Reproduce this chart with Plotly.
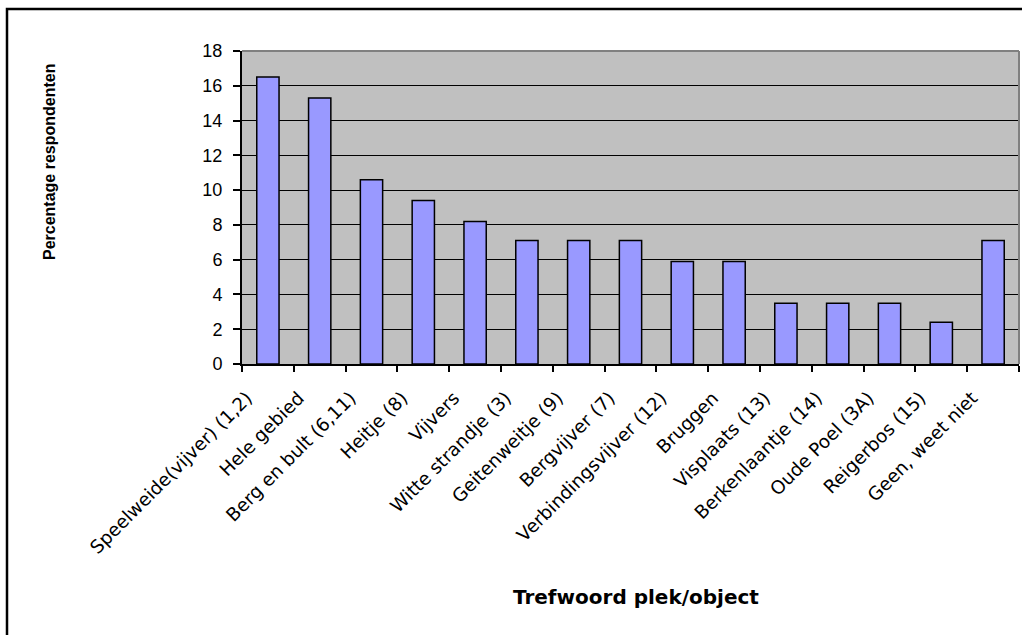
import plotly.graph_objects as go

# Survey result: share of respondents naming each place/object
categories = [
    "Speelweide(vijver) (1,2)", "Hele gebied", "Berg en bult (6,11)", "Heitje (8)",
    "Vijvers", "Witte strandje (3)", "Geitenweitje (9)", "Bergvijver (7)",
    "Verbindingsvijver (12)", "Bruggen", "Visplaats (13)", "Berkenlaantje (14)",
    "Oude Poel (3A)", "Reigerbos (15)", "Geen, weet niet",
]
percentages = [16.5, 15.3, 10.6, 9.4, 8.2, 7.1, 7.1, 7.1, 5.9, 5.9, 3.5, 3.5, 3.5, 2.4, 7.1]

y_ticks = [0, 2, 4, 6, 8, 10, 12, 14, 16, 18]
y_title = "Percentage respondenten"
x_title = "Trefwoord plek/object"

W, H = 1022, 635
L, R, T, B = 242, 3, 51, 271
PW, PH = W - L - R, H - T - B


def px(xp):
    return (xp - L) / PW


def py(yp):
    return (H - B - yp) / PH


fig = go.Figure(
    go.Bar(
        x=categories,
        y=percentages,
        marker=dict(color="#9999FF", line=dict(color="black", width=1.5)),
        width=0.43,
    )
)

font_arial = "Liberation Sans, Arial, sans-serif"
font_wide = "DejaVu Sans, Verdana, sans-serif"

fig.update_layout(
    width=W,
    height=H,
    autosize=False,
    margin=dict(l=L, r=R, t=T, b=B, pad=0),
    paper_bgcolor="white",
    plot_bgcolor="#C0C0C0",
    showlegend=False,
    font=dict(family=font_arial, color="black"),
)

fig.update_xaxes(
    type="category",
    tickangle=-45,
    tickfont=dict(size=18.4, family=font_wide, color="black"),
    ticklabelstandoff=14,
    ticklabelshift=-21,
    ticks="outside",
    ticklen=6,
    tickwidth=1.5,
    tickcolor="black",
    tickson="boundaries",
    showline=True,
    linecolor="black",
    linewidth=2,
    showgrid=False,
)

fig.update_yaxes(
    range=[0, 18],
    tickvals=y_ticks,
    tickfont=dict(size=18, family=font_arial, color="black"),
    ticklabelstandoff=7,
    ticks="outside",
    ticklen=7,
    tickwidth=1.5,
    tickcolor="black",
    showline=True,
    linecolor="black",
    linewidth=2,
    showgrid=True,
    gridcolor="black",
    gridwidth=1.2,
    zeroline=False,
)

# gray plot-area frame on top and right
fig.add_shape(type="line", xref="paper", yref="paper", x0=0, x1=1, y0=1, y1=1,
              line=dict(color="#808080", width=2))
fig.add_shape(type="line", xref="paper", yref="paper", x0=1, x1=1, y0=0, y1=1,
              line=dict(color="#808080", width=2))

# outer chart-area border
fig.add_shape(type="rect", xref="paper", yref="paper",
              x0=px(7), x1=px(1040), y0=py(660), y1=py(9),
              line=dict(color="black", width=2.5), layer="above")

fig.add_annotation(
    text=f"<b>{y_title}</b>", xref="paper", yref="paper",
    x=px(49), y=py(162), textangle=-90, showarrow=False,
    font=dict(size=16, family=font_arial, color="black"),
    xanchor="center", yanchor="middle",
)
fig.add_annotation(
    text=f"<b>{x_title}</b>", xref="paper", yref="paper",
    x=px(636), y=py(597), showarrow=False,
    font=dict(size=20, family=font_wide, color="black"),
    xanchor="center", yanchor="middle",
)

fig.write_html("out.html")
